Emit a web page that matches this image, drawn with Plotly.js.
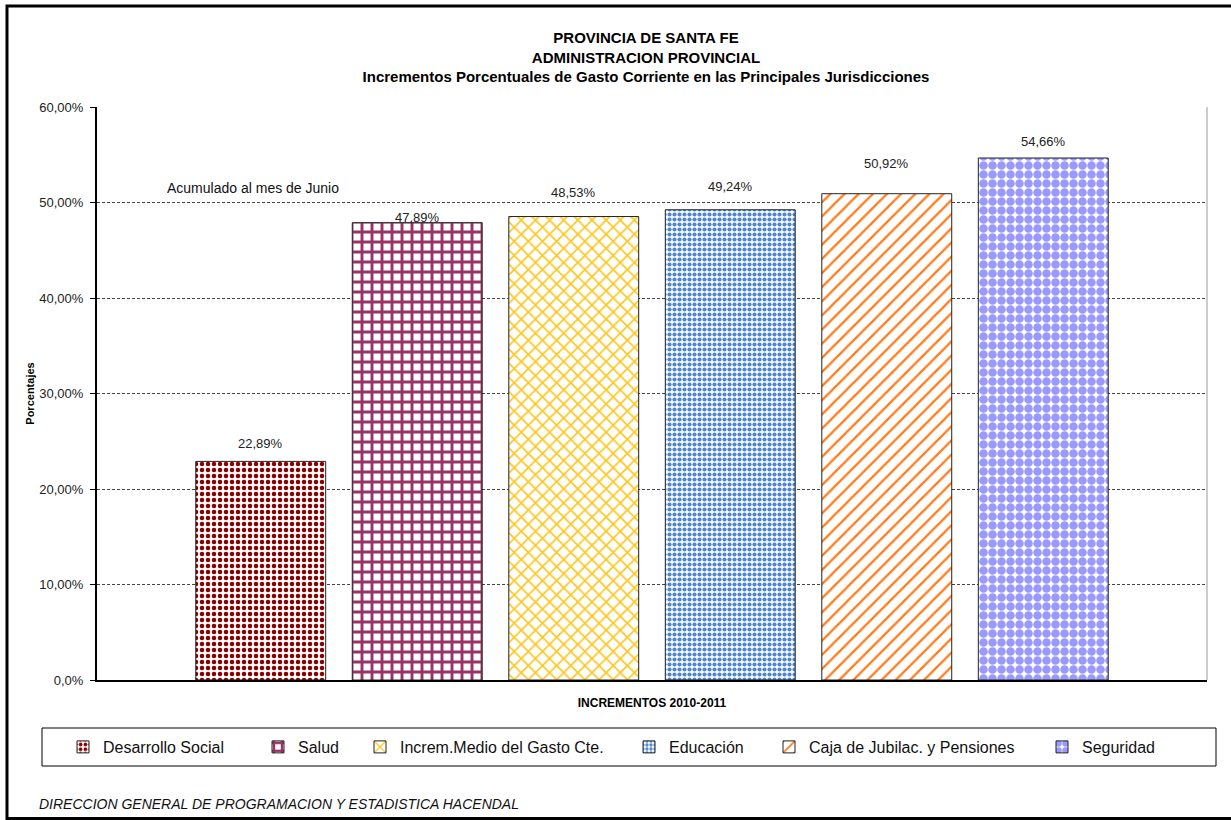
<!DOCTYPE html>
<html>
<head>
<meta charset="utf-8">
<script src="https://cdn.plot.ly/plotly-3.0.1.min.js"></script>
<style>
html,body{margin:0;padding:0;background:#fff;}
#chart{width:1231px;height:820px;}
</style>
</head>
<body>
<div id="chart"></div>
<script>
// ---------- DATA ----------
const categories = ["Desarrollo Social", "Salud", "Increm.Medio del Gasto Cte.", "Educación", "Caja de Jubilac. y Pensiones", "Seguridad"];
const values = [22.89, 47.89, 48.53, 49.24, 50.92, 54.66];
const valueLabels = ["22,89%", "47,89%", "48,53%", "49,24%", "50,92%", "54,66%"];
const groupCategory = ["2010-2011"];
const tickVals = [0, 10, 20, 30, 40, 50, 60];
const tickText = ["0,0%", "10,00%", "20,00%", "30,00%", "40,00%", "50,00%", "60,00%"];

// ---------- STYLE ----------
const FONT = "Liberation Sans, Arial, sans-serif";
const W = 1231, H = 820;
const M = {l: 97, r: 24, t: 107, b: 140};
const PW = W - M.l - M.r, PH = H - M.t - M.b;
const px2x = p => (p - M.l) / PW;
const px2y = p => (H - M.b - p) / PH;

const patterns = [
  {shape: ".", fgcolor: "#8B0000", bgcolor: "#ffffff", size: 6, solidity: 0.45},
  {shape: "+", fgcolor: "#993366", bgcolor: "#ffffff", size: 10, solidity: 0.5},
  {shape: "x", fgcolor: "#FFC61A", bgcolor: "#ffffff", size: 10, solidity: 0.3},
  {shape: ".", fgcolor: "#4F86D0", bgcolor: "#ffffff", size: 5, solidity: 0.55},
  {shape: "/", fgcolor: "#FF7A1A", bgcolor: "#ffffff", size: 10, solidity: 0.22},
  {shape: ".", fgcolor: "#9999FF", bgcolor: "#ffffff", size: 9, solidity: 0.7}
];
const labelShift = [18, 5, 24, 23, 30, 17];
const legendTextPx = [105, 300, 402, 671, 811, 1084];

const BARGAP = 0.154, GROUPGAP = 0.17;
const n = categories.length;
const slot = (1 - BARGAP) / n;

const traces = categories.map((name, i) => ({
  type: "bar",
  name: name,
  x: groupCategory,
  y: [values[i]],
  legend: i === 0 ? "legend" : "legend" + (i + 1),
  marker: {
    color: "#ffffff",
    line: {color: "#222222", width: 1},
    pattern: Object.assign({fillmode: "replace"}, patterns[i])
  },
  hoverinfo: "name+y"
}));

const annotations = categories.map((name, i) => ({
  xref: "x", yref: "y",
  x: -(1 - BARGAP) / 2 + (i + 0.5) * slot,
  y: values[i],
  text: valueLabels[i],
  showarrow: false,
  yanchor: "middle",
  yshift: labelShift[i],
  font: {family: FONT, size: 13, color: "#222"}
}));

annotations.push({
  xref: "paper", yref: "paper",
  x: px2x(165), y: px2y(188),
  xanchor: "left", yanchor: "middle",
  text: "Acumulado al mes de Junio",
  showarrow: false,
  font: {family: FONT, size: 14, color: "#111"}
});
annotations.push({
  xref: "paper", yref: "paper",
  x: px2x(37), y: px2y(804),
  xanchor: "left", yanchor: "middle",
  text: "DIRECCION GENERAL DE PROGRAMACION Y ESTADISTICA HACENDAL",
  showarrow: false,
  font: {family: FONT, size: 14, color: "#111", style: "italic"}
});

const layout = {
  width: W, height: H,
  margin: M,
  paper_bgcolor: "#ffffff",
  plot_bgcolor: "#ffffff",
  showlegend: true,
  barmode: "group",
  bargap: BARGAP,
  bargroupgap: GROUPGAP,
  title: {
    text: "<b>PROVINCIA DE SANTA FE</b><br><b>ADMINISTRACION PROVINCIAL</b><br><b>Incrementos Porcentuales de Gasto Corriente en las Principales Jurisdicciones</b>",
    font: {family: FONT, size: 15, color: "#000"},
    xref: "container", x: 646 / W, xanchor: "center",
    yref: "container", y: 1 - 43 / H, yanchor: "top"
  },
  xaxis: {
    type: "category",
    range: [-0.5, 0.5],
    showticklabels: false,
    ticks: "",
    showline: true, linecolor: "#000", linewidth: 2,
    showgrid: false, zeroline: false,
    title: {text: "<b>INCREMENTOS 2010-2011</b>", font: {family: FONT, size: 12, color: "#000"}, standoff: 18}
  },
  yaxis: {
    range: [0, 60],
    tickvals: tickVals,
    ticktext: tickText,
    ticks: "outside", ticklen: 5, tickcolor: "#000", tickwidth: 1,
    ticklabelstandoff: 4,
    tickfont: {family: FONT, size: 13, color: "#222"},
    showline: true, linecolor: "#000", linewidth: 2,
    showgrid: true, gridcolor: "#444", griddash: "3px,2px", gridwidth: 1,
    zeroline: false,
    title: {text: "<b>Porcentajes</b>", font: {family: FONT, size: 11, color: "#000"}, standoff: 2}
  },
  annotations: annotations,
  shapes: [
    {type: "line", xref: "paper", yref: "paper", x0: 1, x1: 1, y0: 0, y1: 1, line: {color: "#999", width: 1}},
    {type: "rect", xref: "paper", yref: "paper", x0: px2x(42), x1: px2x(1216), y0: px2y(728), y1: px2y(766), line: {color: "#000", width: 1}, fillcolor: "rgba(0,0,0,0)"},
    {type: "rect", xref: "paper", yref: "paper", x0: px2x(7), x1: px2x(1260), y0: px2y(6), y1: px2y(818.5), line: {color: "#000", width: 3}, fillcolor: "rgba(0,0,0,0)"}
  ]
};

categories.forEach((name, i) => {
  const key = i === 0 ? "legend" : "legend" + (i + 1);
  layout[key] = {
    orientation: "h",
    xref: "paper", yref: "paper",
    x: px2x(legendTextPx[i] - 42), y: px2y(747),
    xanchor: "left", yanchor: "middle",
    bgcolor: "rgba(0,0,0,0)",
    borderwidth: 0,
    itemwidth: 30,
    font: {family: FONT, size: 16, color: "#111"}
  };
});

Plotly.newPlot("chart", traces, layout, {displayModeBar: false, staticPlot: true});
</script>
</body>
</html>
